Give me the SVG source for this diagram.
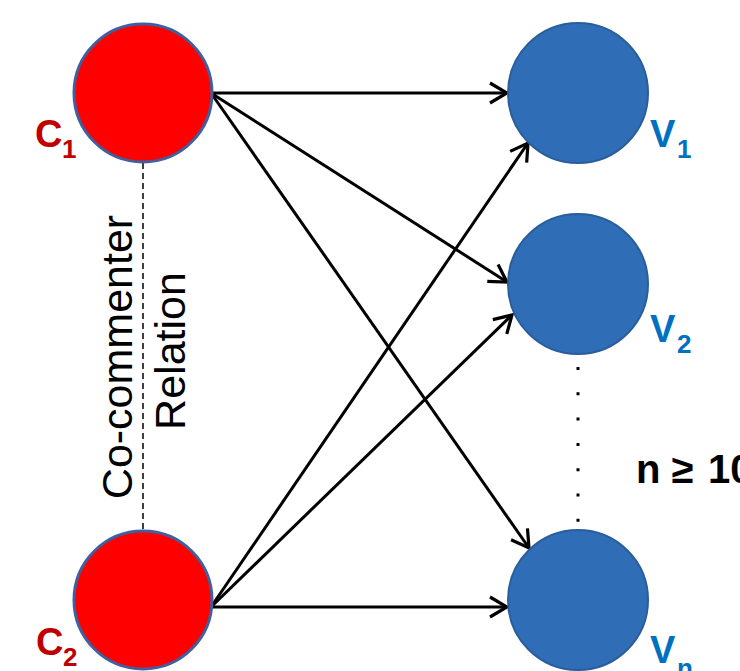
<svg xmlns="http://www.w3.org/2000/svg" width="740" height="671" viewBox="0 0 740 671">
<style>
.c{fill:#ff0000;stroke:#3f5f9e;stroke-width:3}
.v{fill:#2f6db6;stroke:#2a5d9c;stroke-width:2}
.lc{font-family:"Liberation Sans",Arial,sans-serif;font-weight:bold;fill:#c00000}
.lv{font-family:"Liberation Sans",Arial,sans-serif;font-weight:bold;fill:#0070c0}
.rel{font-family:"Liberation Sans",Arial,sans-serif;font-size:43px;fill:#000;text-anchor:middle}
.e{stroke:#000;stroke-width:3;fill:none;marker-end:url(#ah)}
</style>
<defs>
<marker id="ah" markerUnits="userSpaceOnUse" markerWidth="34" markerHeight="34" viewBox="-22 -17 34 34" refX="0" refY="0" orient="auto">
<path d="M-17,-10 L0,0 L-17,10" fill="none" stroke="#000" stroke-width="3.2"/>
</marker>
</defs>
<rect width="740" height="671" fill="#ffffff"/>
<line x1="143" y1="163" x2="143" y2="531" stroke="#000" stroke-width="1.5" stroke-dasharray="6 4"/>
<line x1="578" y1="367" x2="578" y2="525" stroke="#000" stroke-width="3" stroke-dasharray="3 22.3"/>
<g id="connectors">
<line class="e" x1="211" y1="93" x2="507" y2="93"/>
<line class="e" x1="211" y1="93" x2="507" y2="282"/>
<line class="e" x1="211" y1="93" x2="529" y2="548"/>
<line class="e" x1="211" y1="607" x2="528" y2="143"/>
<line class="e" x1="211" y1="607" x2="512" y2="315"/>
<line class="e" x1="211" y1="607" x2="507" y2="607"/>
</g>
<g id="C1">
<circle class="c" cx="143" cy="93" r="69"/>
<text class="lc" x="35" y="147" font-size="38">C</text>
<text class="lc" x="62" y="158" font-size="26">1</text>
</g>
<g id="C2">
<circle class="c" cx="143" cy="600" r="69"/>
<text class="lc" x="36" y="655" font-size="38">C</text>
<text class="lc" x="63" y="666" font-size="26">2</text>
</g>
<g id="V1">
<circle class="v" cx="578" cy="93" r="70"/>
<text class="lv" x="650" y="147" font-size="38">V</text>
<text class="lv" x="677" y="158" font-size="26">1</text>
</g>
<g id="V2">
<circle class="v" cx="578" cy="284" r="70"/>
<text class="lv" x="650" y="342" font-size="38">V</text>
<text class="lv" x="677" y="353" font-size="26">2</text>
</g>
<g id="Vn">
<circle class="v" cx="578" cy="600" r="70"/>
<text class="lv" x="650" y="663" font-size="38">V</text>
<text class="lv" x="677" y="677" font-size="26">n</text>
</g>
<g id="relation">
<text class="rel" transform="translate(132,357) rotate(-90)">Co-commenter</text>
<text class="rel" transform="translate(185,351) rotate(-90)">Relation</text>
</g>
<text x="636" y="483" font-family="'Liberation Sans',Arial,sans-serif" font-weight="bold" font-size="40" fill="#000">n ≥<tspan x="708">10</tspan></text>
</svg>
